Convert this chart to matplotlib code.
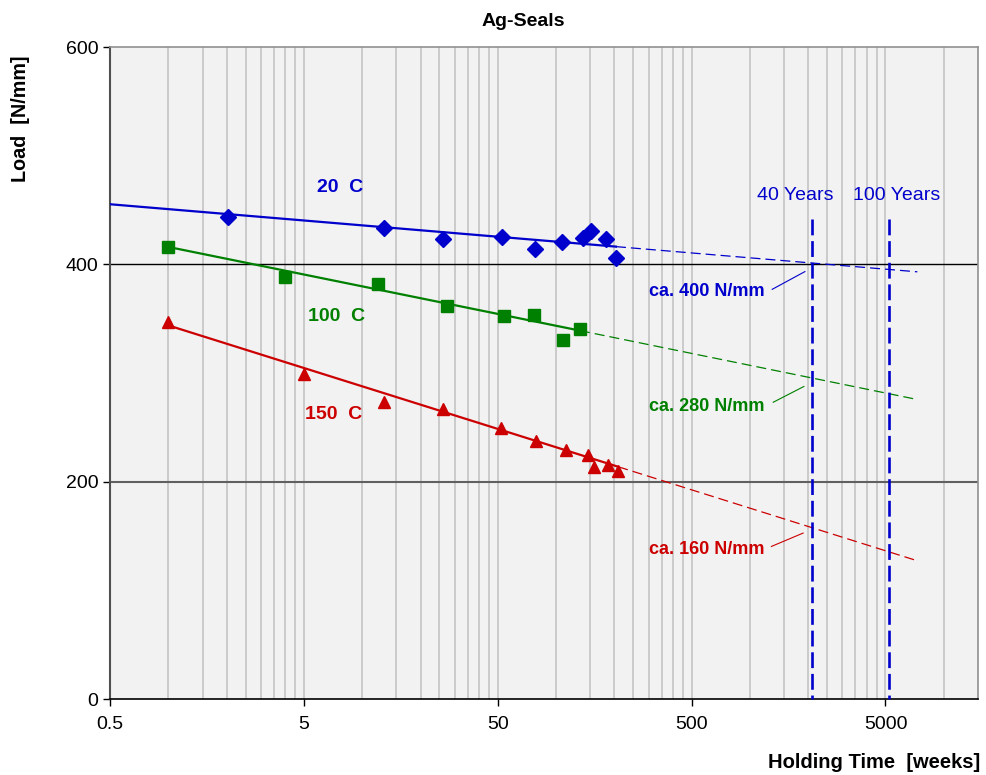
import numpy as np
import matplotlib
matplotlib.use("Agg")
import matplotlib.pyplot as plt
from matplotlib.ticker import FixedLocator, NullFormatter

plt.rcParams['font.family'] = ['Liberation Sans', 'DejaVu Sans']

# ---- data ----
x_20 = [2.03, 13.0, 26.2, 52.4, 77.8, 106.8, 138, 151, 180, 203.5]
y_20 = [443.6, 433.8, 423.7, 425.5, 414.5, 420.6, 424, 430.4, 423, 405.5]

x_100 = [1.0, 4.01, 12.0, 27.3, 54.0, 77.1, 108.9, 132.8]
y_100 = [416.3, 388.7, 382.2, 361.3, 352.7, 353.6, 330.6, 340.7]

x_150 = [1.0, 5.01, 13.0, 26.0, 51.9, 78.4, 112, 145.4, 157.4, 185.8, 209.2]
y_150 = [346.8, 299.5, 273.7, 267, 249.1, 237.8, 229.5, 224.9, 213.5, 215, 209.5]

# trend lines: solid part (start, end) and dashed extrapolation (end)
trend_20_x = [0.5, 203.5, 7300]
trend_20_y = [455.3, 416.3, 393.1]
trend_100_x = [1.0, 132.8, 7300]
trend_100_y = [416.0, 339.0, 275.6]
trend_150_x = [1.0, 209.2, 7300]
trend_150_y = [343.8, 213.7, 127.2]

years_weeks = [2086, 5214]
years_labels = ['40 Years', '100 Years']
series_labels = ['20  C', '100  C', '150  C']
estimates = ['ca. 400 N/mm', 'ca. 280 N/mm', 'ca. 160 N/mm']

blue = '#0000CC'
green = '#008000'
red = '#CC0000'

fig = plt.figure(figsize=(9.86, 7.75), dpi=100)
ax = fig.add_axes([110/986, 1-699/775, (978-110)/986, (699-47)/775])
ax.set_facecolor('#F2F2F2')
ax.set_xscale('log')
ax.set_xlim(0.5, 15000)
ax.set_ylim(0, 600)

# ticks and grid
majors = [0.5, 5, 50, 500, 5000]
minors = [i * 0.5 * 10**k for k in range(0, 5) for i in range(2, 10)]
minors = [m for m in minors if m < 15000]
ax.xaxis.set_major_locator(FixedLocator(majors))
ax.xaxis.set_minor_locator(FixedLocator(minors))
ax.xaxis.set_minor_formatter(NullFormatter())
ax.set_xticklabels(['0.5', '5', '50', '500', '5000'])
ax.yaxis.set_major_locator(FixedLocator([0, 200, 400, 600]))
ax.tick_params(axis='both', which='major', direction='out', length=5, width=1,
               labelsize=14, colors='black')
ax.tick_params(axis='x', which='minor', length=0)
ax.tick_params(axis='x', pad=7)

ax.grid(True, axis='x', which='both', color='#C4C4C4', lw=1.2)
ax.set_axisbelow(True)
ax.axhline(400, color='black', lw=1.0, zorder=1)
ax.axhline(200, color='#606060', lw=1.5, zorder=1)

for s in ['top', 'right']:
    ax.spines[s].set_color('#909090')
    ax.spines[s].set_linewidth(1.2)
ax.spines['left'].set_color('#505050')
ax.spines['left'].set_linewidth(1.5)
ax.spines['bottom'].set_color('black')
ax.spines['bottom'].set_linewidth(1.2)

# trend lines
for tx, ty, c in [(trend_20_x, trend_20_y, blue), (trend_100_x, trend_100_y, green),
                  (trend_150_x, trend_150_y, red)]:
    ax.plot(tx[:2], ty[:2], color=c, lw=1.6, zorder=3)
    ax.plot(tx[1:], ty[1:], color=c, lw=0.9, dashes=(8, 4), zorder=3)

# data markers
ax.plot(x_20, y_20, linestyle='none', marker='D', ms=8.0, color=blue, zorder=4)
ax.plot(x_100, y_100, linestyle='none', marker='s', ms=9.2, color=green, zorder=4)
ax.plot(x_150, y_150, linestyle='none', marker='^', ms=9.2, color=red, zorder=4)

# vertical year lines
for xw, lab in zip(years_weeks, years_labels):
    ax.plot([xw, xw], [442, 0], color=blue, lw=1.9, dashes=(6, 2.2), zorder=5,
            clip_on=False)
ax.text(1705, 463, years_labels[0], color=blue, fontsize=14, ha='center', va='center')
ax.text(5724, 463, years_labels[1], color=blue, fontsize=14, ha='center', va='center')

# series labels
ax.text(7.68, 470.7, series_labels[0], color=blue, fontsize=14, fontweight='bold',
        ha='center', va='center')
ax.text(7.38, 352.4, series_labels[1], color=green, fontsize=14, fontweight='bold',
        ha='center', va='center')
ax.text(7.15, 261.8, series_labels[2], color=red, fontsize=14, fontweight='bold',
        ha='center', va='center')

# estimate annotations with leader lines
ann = [(375.4, (1302, 377), (1920, 393.3), blue),
       (269.4, (1318, 273.1), (1897, 287.6), green),
       (137.3, (1290, 140.4), (1880, 152.7), red)]
for (ty, p0, p1, c), txt in zip(ann, estimates):
    ax.text(1194, ty, txt, color=c, fontsize=13, fontweight='bold', ha='right', va='center')
    ax.plot([p0[0], p1[0]], [p0[1], p1[1]], color=c, lw=0.8, zorder=5)

fig.text(523/986, 1-22/775, 'Ag-Seals', fontsize=14, fontweight='bold',
         ha='center', va='center')
fig.text(980/986, 1-762/775, 'Holding Time  [weeks]', fontsize=14.5, fontweight='bold',
         ha='right', va='center')
fig.text(21/986, 1-56/775, 'Load  [N/mm]', fontsize=14.2, fontweight='bold',
         rotation=90, ha='center', va='top')

fig.savefig('out.png', dpi=100)
